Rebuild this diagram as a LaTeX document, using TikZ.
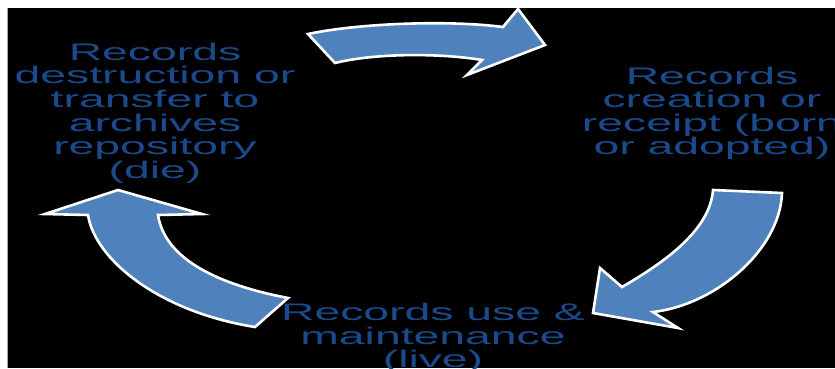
\documentclass[tikz,border=0pt]{standalone}
\usepackage{fontspec}
\newfontfamily\lblfont[FakeStretch=1.93]{Liberation Sans}
\definecolor{txtblue}{RGB}{26,74,140}
\definecolor{arrowblue}{RGB}{79,129,189}
\tikzset{
  lbl/.style={text=txtblue, align=center, inner sep=0pt, anchor=north,
    font=\lblfont\fontsize{24}{23.6}\selectfont},
  blockarrow/.style={fill=arrowblue, draw=white, line width=2.6pt, line join=miter}
}
\begin{document}
\begin{tikzpicture}[x=1pt,y=-1pt]
\useasboundingbox (0,0) rectangle (835,368);
\fill[white] (0,0) rectangle (835,368);
\begin{scope}
\clip (0,0) rectangle (835,368);
\fill[black] (7,8) rectangle (835,368);
\draw[gray!70, line width=0.8pt] (7,8) -- (7,368);
% text blocks
\node[lbl] (destroy) at (155,42.8) {Records\\destruction or\\transfer to\\archives\\repository\\(die)};
\node[lbl] (create) at (712,66.5) {Records\\creation or\\receipt (born\\or adopted)};
\node[lbl] (use) at (433,302.8) {Records use \&\\maintenance\\(live)};
% block arrows
\draw[blockarrow] (308,34) .. controls (360,23) and (450,20) .. (503,27) -- (518,9) -- (545,45)
  -- (467,75) -- (482,60) .. controls (440,53) and (375,53) .. (335,63) -- cycle;
\draw[blockarrow] (713,190) -- (782,193) .. controls (780,250) and (715,305) .. (653,312) -- (678,328)
  -- (593,313) -- (600,268) -- (622,287) .. controls (665,262) and (710,230) .. (713,190) -- cycle;
\draw[blockarrow] (118,190) -- (202,214) -- (158,215) .. controls (165,260) and (220,285) .. (288,298)
  -- (255,327) .. controls (160,312) and (95,260) .. (88,215) -- (45,214) -- cycle;
\end{scope}
\end{tikzpicture}
\end{document}
